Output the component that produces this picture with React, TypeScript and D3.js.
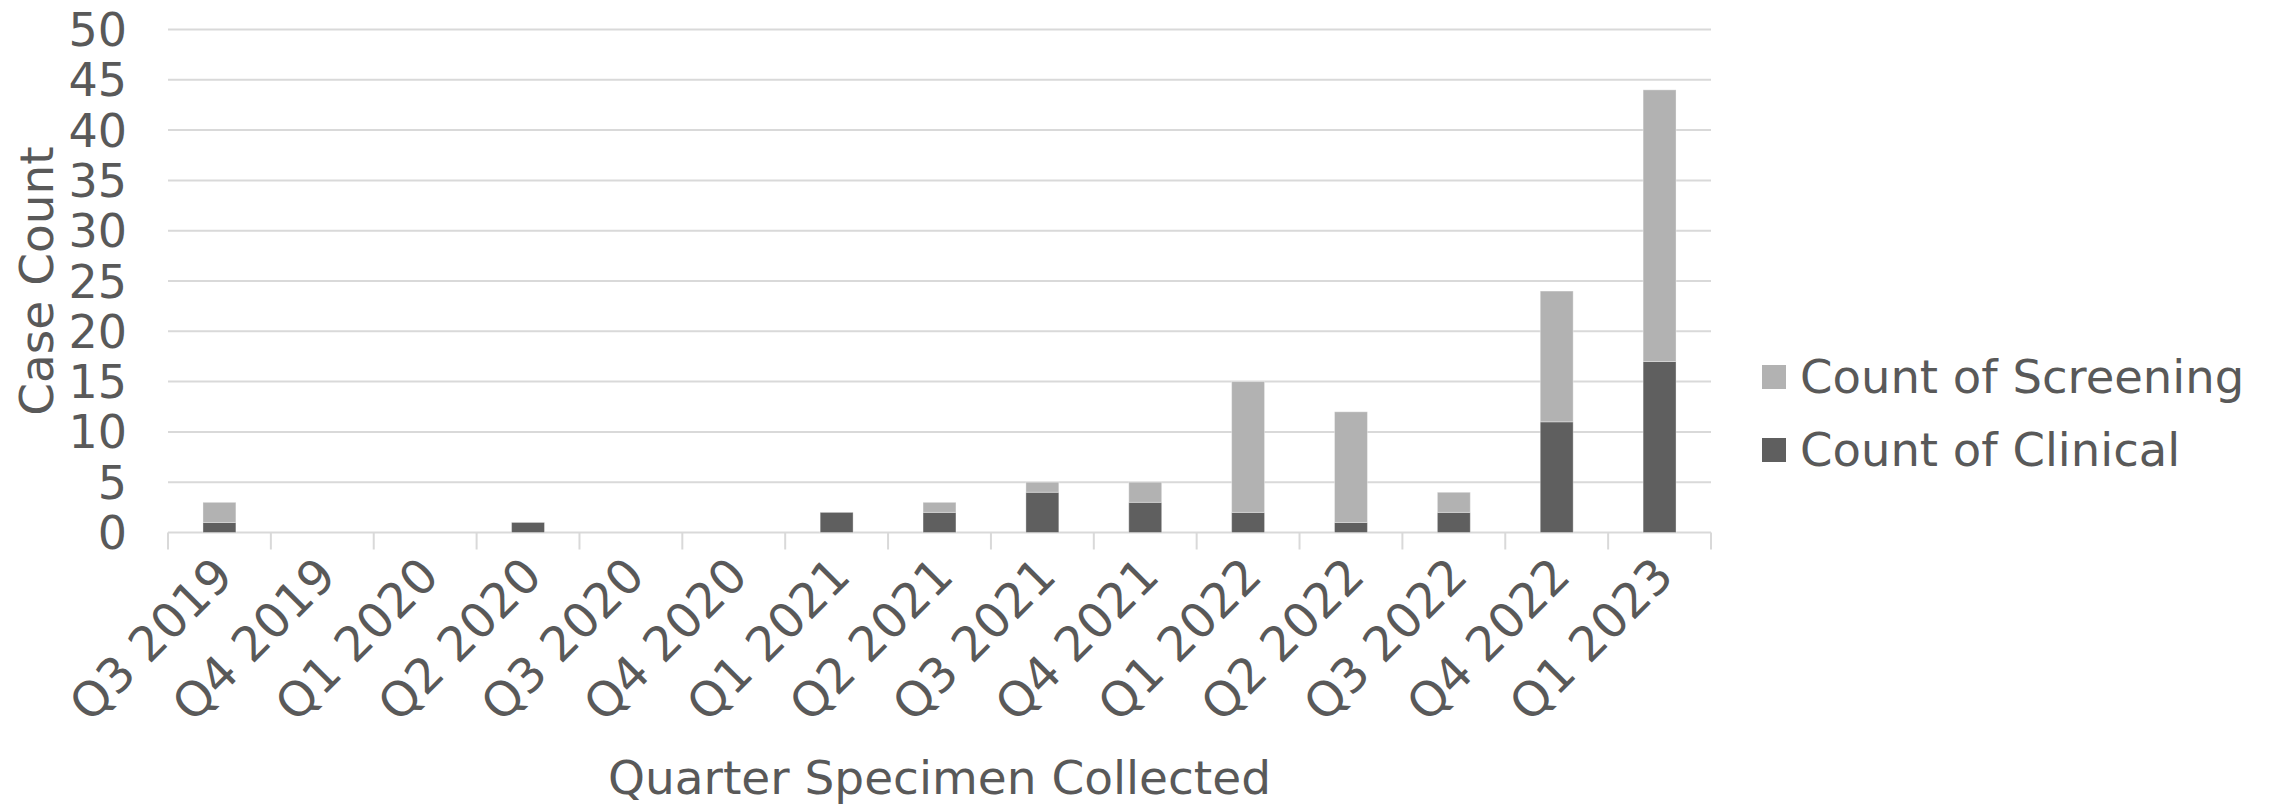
import React from "react";
import * as d3 from "d3";

// Quarterly case counts, split by how the specimen was found
const quarters = [
  "Q3 2019", "Q4 2019", "Q1 2020", "Q2 2020", "Q3 2020", "Q4 2020",
  "Q1 2021", "Q2 2021", "Q3 2021", "Q4 2021", "Q1 2022", "Q2 2022",
  "Q3 2022", "Q4 2022", "Q1 2023",
];
const clinical = [1, 0, 0, 1, 0, 0, 2, 2, 4, 3, 2, 1, 2, 11, 17];
const screening = [2, 0, 0, 0, 0, 0, 0, 1, 1, 2, 13, 11, 2, 13, 27];
const yTicks = [0, 5, 10, 15, 20, 25, 30, 35, 40, 45, 50];

const seriesNames = ["Count of Clinical", "Count of Screening"];
const seriesColors = ["#5f5f5f", "#b2b2b2"];

const W = 2270;
const H = 805;
const margin = { left: 168, right: 559, top: 29.5, bottom: 272.5 };
const FONT = "'DejaVu Sans', sans-serif";
const TEXT = "#595959";
const GRID = "#d9d9d9";
const FS = 46;

export default function App() {
  const innerW = W - margin.left - margin.right;
  const innerH = H - margin.top - margin.bottom;

  const x = d3.scaleBand<string>().domain(quarters).range([margin.left, margin.left + innerW]);
  const y = d3.scaleLinear().domain([0, 50]).range([margin.top + innerH, margin.top]);

  const table = quarters.map((q, i) => ({ q, clinical: clinical[i], screening: screening[i] }));
  const stacked = d3.stack<any>().keys(["clinical", "screening"])(table);

  const barW = x.bandwidth() * 0.32;
  const baseY = y(0);

  return (
    <svg
      width={W}
      height={H}
      style={{ position: "absolute", left: 0, top: 0, background: "#fff" }}
      fontFamily={FONT}
    >
      {/* horizontal gridlines */}
      {yTicks.map((t) => (
        <line
          key={"g" + t}
          x1={margin.left}
          x2={margin.left + innerW}
          y1={y(t)}
          y2={y(t)}
          stroke={GRID}
          strokeWidth={2}
        />
      ))}

      {/* y tick labels */}
      {yTicks.map((t) => (
        <text
          key={"yt" + t}
          x={127}
          y={y(t)}
          dy="0.36em"
          textAnchor="end"
          fontSize={FS}
          fill={TEXT}
        >
          {t}
        </text>
      ))}

      {/* category separators below the axis */}
      {quarters.map((q) => (
        <line
          key={"tk" + q}
          x1={x(q)!}
          x2={x(q)!}
          y1={baseY}
          y2={baseY + 17}
          stroke={GRID}
          strokeWidth={2}
        />
      ))}
      <line
        x1={margin.left + innerW}
        x2={margin.left + innerW}
        y1={baseY}
        y2={baseY + 17}
        stroke={GRID}
        strokeWidth={2}
      />

      {/* stacked bars */}
      {stacked.map((s, si) => (
        <g key={s.key} fill={seriesColors[si]}>
          {s.map((d, i) => {
            const h = y(d[0]) - y(d[1]);
            if (h <= 0) return null;
            const cx = x(quarters[i])! + x.bandwidth() / 2;
            return (
              <rect
                key={i}
                x={cx - barW / 2}
                y={y(d[1])}
                width={barW}
                height={h}
                stroke="#ffffff"
                strokeOpacity={0.35}
                strokeWidth={1}
              />
            );
          })}
        </g>
      ))}

      {/* x tick labels, rotated */}
      {quarters.map((q) => {
        const cx = x(q)! + x.bandwidth() / 2 + 16;
        const cy = baseY + 46;
        return (
          <text
            key={"xl" + q}
            transform={`translate(${cx},${cy}) rotate(-45)`}
            textAnchor="end"
            fontSize={48}
            fill={TEXT}
          >
            {q}
          </text>
        );
      })}

      {/* axis titles */}
      <text
        x={margin.left + innerW / 2}
        y={777}
        dy="0.36em"
        textAnchor="middle"
        fontSize={47}
        fill={TEXT}
      >
        Quarter Specimen Collected
      </text>
      <text
        transform={`translate(36,${margin.top + innerH / 2}) rotate(-90)`}
        dy="0.36em"
        textAnchor="middle"
        fontSize={47}
        fill={TEXT}
      >
        Case Count
      </text>

      {/* legend */}
      {[1, 0].map((si, row) => {
        const cy = 376 + row * 73;
        return (
          <g key={"lg" + si}>
            <rect x={1762} y={cy - 11} width={24} height={24} fill={seriesColors[si]} />
            <text x={1800} y={cy} dy="0.36em" fontSize={46.5} fill={TEXT}>
              {seriesNames[si]}
            </text>
          </g>
        );
      })}
    </svg>
  );
}
